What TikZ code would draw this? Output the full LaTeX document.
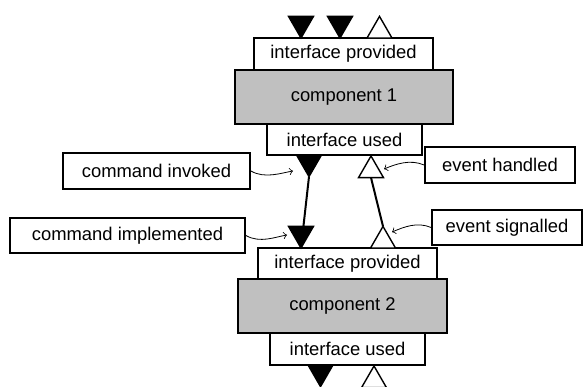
\documentclass[tikz,border=0pt]{standalone}
\usepackage{fontspec}
\setmainfont{Liberation Sans}
\usetikzlibrary{shapes.geometric}
\definecolor{compgray}{RGB}{192,192,192}
\tikzset{
	box/.style={draw, line width=0.9pt, fill=white, inner sep=0pt, font=\fontsize{9.2}{11}\selectfont},
	comp/.style={box, fill=compgray},
	tri/.style={regular polygon, regular polygon sides=3, draw, line width=0.7pt, minimum size=14.4pt, inner sep=0pt, outer sep=0pt},
	cmd/.style={tri, fill=black, shape border rotate=180},
	evt/.style={tri, fill=white},
	link/.style={line width=1pt},
	hint/.style={->, thin}
}
\begin{document}
\begin{tikzpicture}[x=0.5pt, y=-0.5pt]
	\useasboundingbox (0,0) rectangle (583,386);
	% component 1
	\node [box, minimum width=89.5pt, minimum height=16pt] (prov1) at (343.5,54) {interface provided};
	\node [comp, minimum width=109pt, minimum height=27pt] (comp1) at (344,97) {component 1};
	\node [box, minimum width=77.5pt, minimum height=15.5pt] (used1) at (344.5,139.5) {interface used};
	% component 2
	\node [box, minimum width=89.5pt, minimum height=15.5pt] (prov2) at (347.5,263.5) {interface provided};
	\node [comp, minimum width=104.5pt, minimum height=27pt] (comp2) at (342.5,306) {component 2};
	\node [box, minimum width=77.5pt, minimum height=16pt] (used2) at (347.5,349) {interface used};
	% triangles
	\foreach \x [count=\i] in {301,340}{%
			\node [cmd, anchor=corner 1] (topcmd\i) at (\x,38) {};
			}
	\node [evt, anchor=side 2] (topevt) at (379.5,38) {};
	\node [cmd, anchor=side 2] (cmdout) at (309,155) {};
	\node [evt, anchor=corner 1] (evtin) at (371,156) {};
	\node [cmd, anchor=corner 1] (cmdin) at (301,248) {};
	\node [evt, anchor=side 2] (evtout) at (383,248) {};
	\node [cmd, anchor=side 2] (botcmd) at (320.5,365) {};
	\node [evt, anchor=corner 1] (botevt) at (374,366) {};
	\draw [link] (cmdout.corner 1) -- (cmdin.corner 1);
	\draw [link] (evtin.side 2) -- (evtout.corner 1);
	% notes
	\node [box, minimum width=93.5pt, minimum height=18pt] (invoked) at (156.5,171) {command invoked};
	\node [box, minimum width=117.5pt, minimum height=17.5pt] (implemented) at (127.5,235.5) {command implemented};
	\node [box, minimum width=75pt, minimum height=18pt] (handled) at (500,165) {event handled};
	\node [box, minimum width=75pt, minimum height=17.5pt] (signalled) at (507,227.5) {event signalled};
	\coordinate (invtip) at (293,171);
	\coordinate (impltip) at (287,235);
	\coordinate (handtip) at (384,169);
	\coordinate (sigtip) at (392,232);
	\draw [hint] (invoked.east) .. controls +(14,8) and +(-12,2) .. (invtip);
	\draw [hint] (implemented.east) .. controls +(14,8) and +(-12,2) .. (impltip);
	\draw [hint] (handled.west) .. controls +(-14,-6) and +(12,-5) .. (handtip);
	\draw [hint] (signalled.west) .. controls +(-14,-6) and +(12,-5) .. (sigtip);
\end{tikzpicture}
\end{document}
